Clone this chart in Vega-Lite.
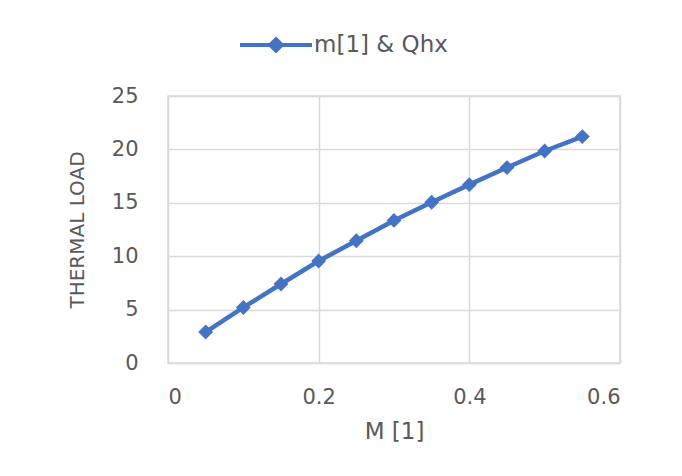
{
  "$schema": "https://vega.github.io/schema/vega-lite/v6.json",
  "width": 452,
  "height": 267,
  "autosize": {"type": "none"},
  "padding": {"left": 168, "top": 96, "right": 62, "bottom": 113},
  "background": "white",
  "data": {
    "values": [
      {"m": 0.05, "q": 2.9, "series": "m[1] & Qhx"},
      {"m": 0.1, "q": 5.2, "series": "m[1] & Qhx"},
      {"m": 0.15, "q": 7.4, "series": "m[1] & Qhx"},
      {"m": 0.2, "q": 9.55, "series": "m[1] & Qhx"},
      {"m": 0.25, "q": 11.45, "series": "m[1] & Qhx"},
      {"m": 0.3, "q": 13.35, "series": "m[1] & Qhx"},
      {"m": 0.35, "q": 15.05, "series": "m[1] & Qhx"},
      {"m": 0.4, "q": 16.7, "series": "m[1] & Qhx"},
      {"m": 0.45, "q": 18.3, "series": "m[1] & Qhx"},
      {"m": 0.5, "q": 19.85, "series": "m[1] & Qhx"},
      {"m": 0.55, "q": 21.2, "series": "m[1] & Qhx"}
    ]
  },
  "encoding": {
    "x": {
      "field": "m",
      "type": "quantitative",
      "scale": {"domain": [0, 0.6], "nice": false, "zero": true},
      "axis": {
        "title": "M [1]",
        "values": [0, 0.2, 0.4, 0.6],
        "format": "~g",
        "labelPadding": 23,
        "titlePadding": 13,
        "titleFontSize": 23,
        "ticks": false,
        "domainColor": "#d9d9d9",
        "gridColor": "#d9d9d9"
      }
    },
    "y": {
      "field": "q",
      "type": "quantitative",
      "scale": {"domain": [0, 25], "nice": false},
      "axis": {
        "title": "THERMAL LOAD",
        "values": [0, 5, 10, 15, 20, 25],
        "labelPadding": 30,
        "titlePadding": 24,
        "titleFontSize": 20,
        "ticks": false,
        "domain": false,
        "gridColor": "#d9d9d9"
      }
    },
    "color": {
      "field": "series",
      "type": "nominal",
      "scale": {"range": ["#4472c4"]},
      "legend": {
        "title": null,
        "orient": "none",
        "legendX": 70,
        "legendY": -89,
        "symbolType": "M-1,0L1,0M0,-0.16L0.16,0L0,0.16L-0.16,0Z",
        "symbolSize": 5184,
        "symbolStrokeWidth": 4,
        "symbolFillColor": "#4472c4",
        "symbolStrokeColor": "#4472c4",
        "symbolOpacity": 1,
        "labelFontSize": 23,
        "labelOffset": 0
      }
    }
  },
  "layer": [
    {"mark": {"type": "line", "strokeWidth": 4.5}},
    {"mark": {"type": "point", "shape": "diamond", "filled": true, "size": 220, "opacity": 1}}
  ],
  "config": {
    "font": "DejaVu Sans",
    "view": {"stroke": "#d9d9d9", "strokeWidth": 1.5},
    "axis": {
      "labelFont": "DejaVu Sans",
      "titleFont": "DejaVu Sans",
      "labelFontSize": 21,
      "titleFontWeight": "normal",
      "labelColor": "#595959",
      "titleColor": "#595959",
      "gridColor": "#d9d9d9",
      "gridWidth": 1.5
    },
    "legend": {"labelColor": "#595959", "labelFont": "DejaVu Sans"}
  }
}
